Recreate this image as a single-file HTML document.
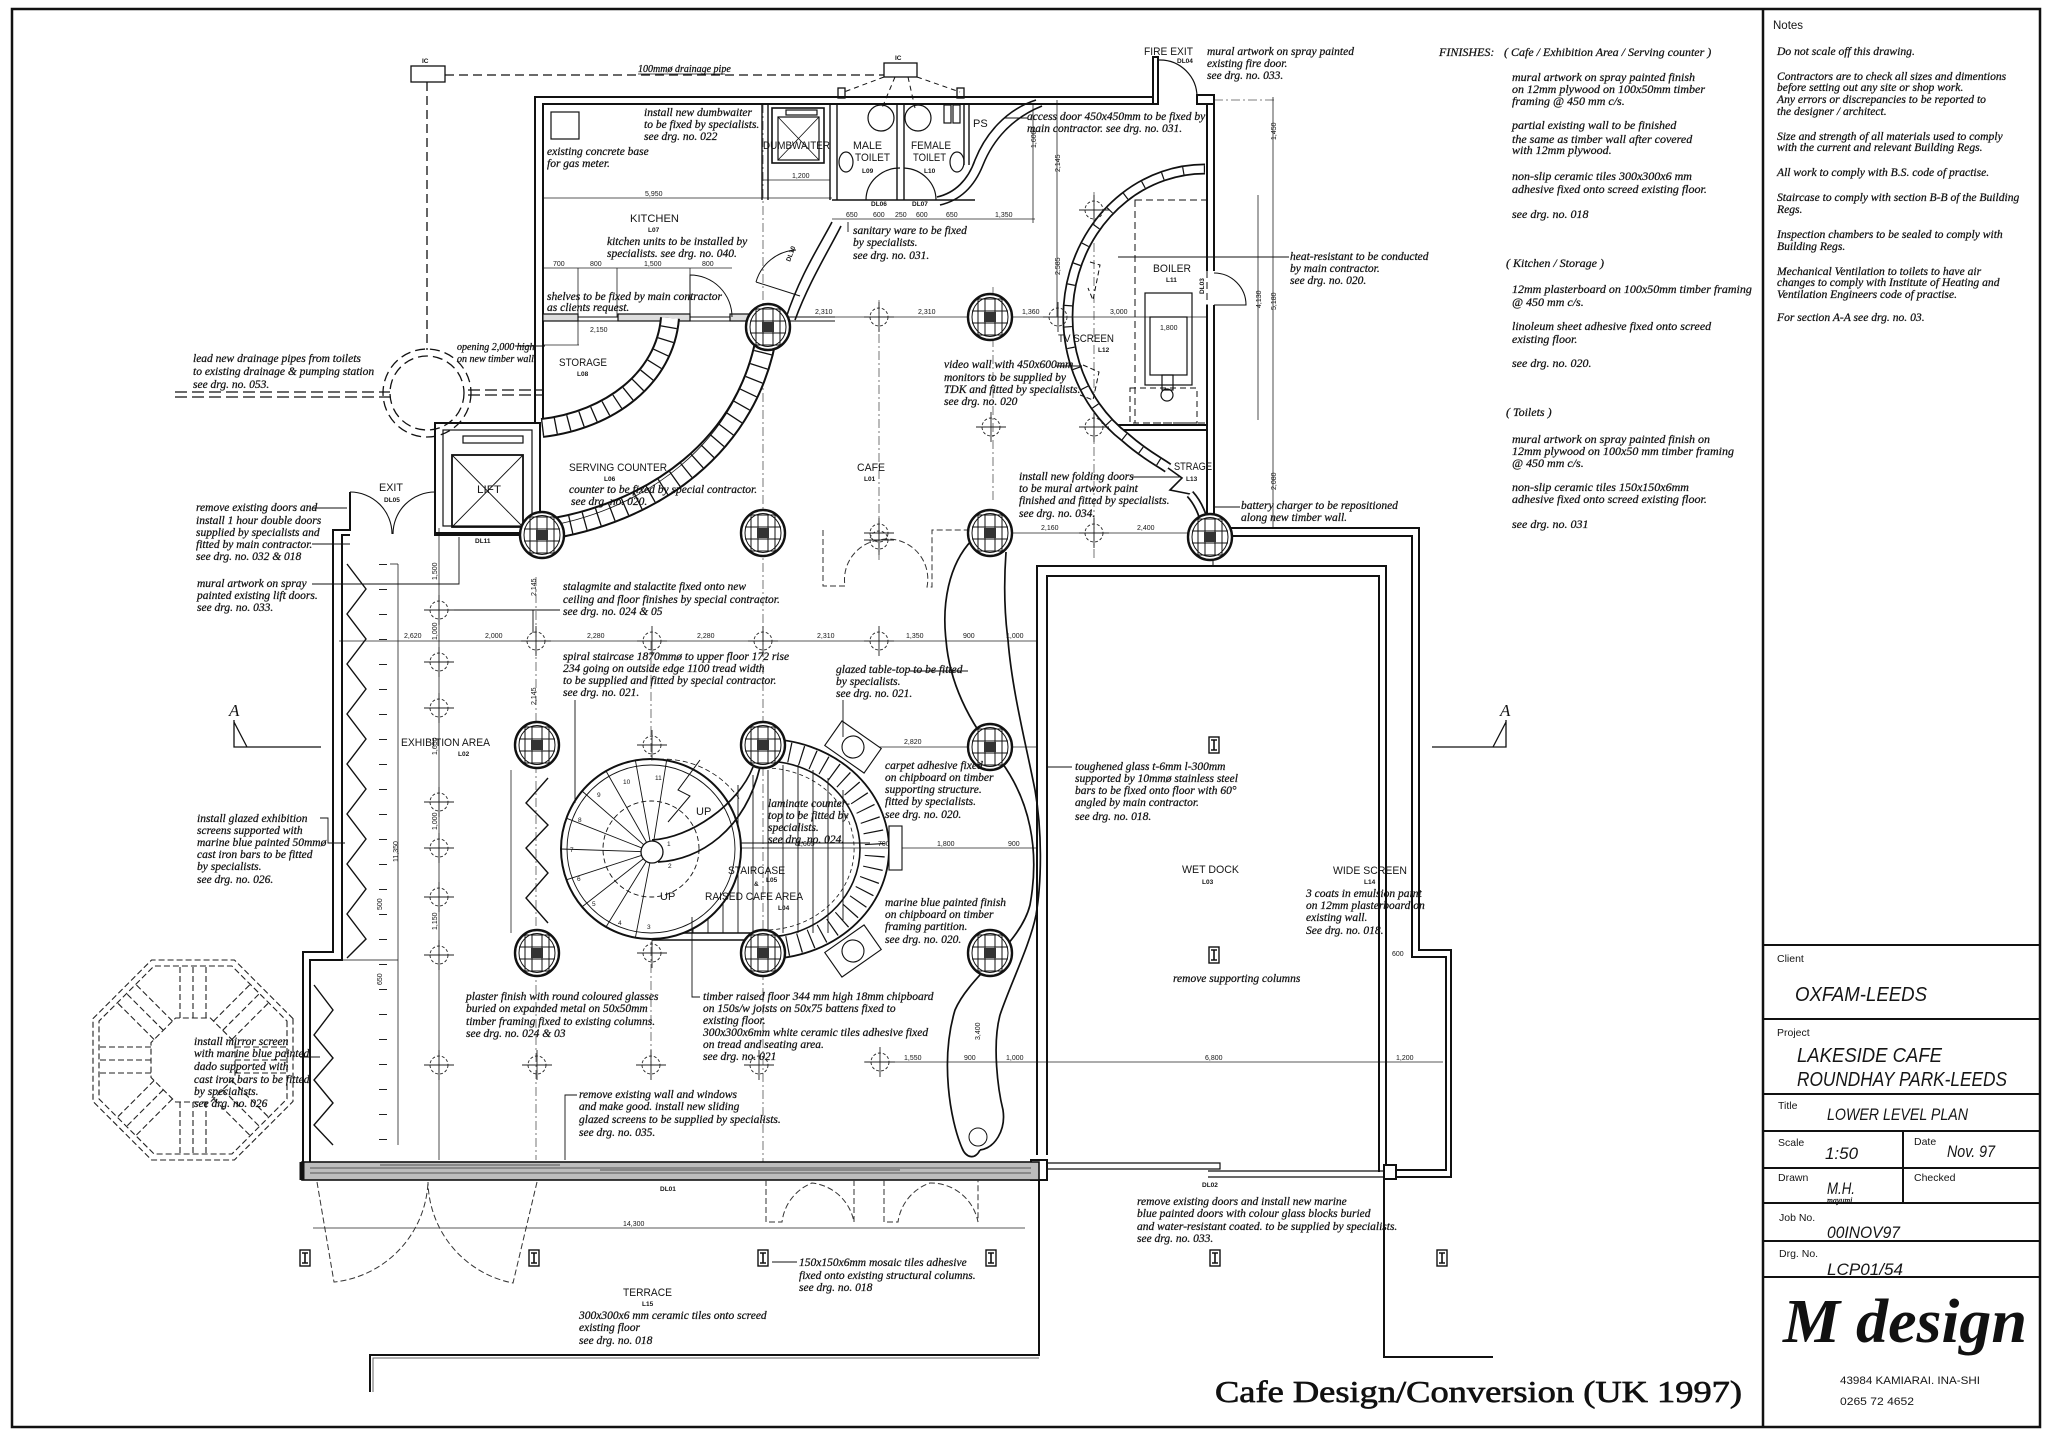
<!DOCTYPE html>
<html><head><meta charset="utf-8">
<style>
html,body{margin:0;padding:0;background:#fff;}
svg{display:block;}
.h{font-family:"Liberation Serif",serif;font-style:italic;font-size:11.5px;fill:#111;stroke:#111;stroke-width:0.25;}
.s{font-family:"Liberation Sans",sans-serif;font-size:11px;fill:#151515;}
.xs{font-family:"Liberation Sans",sans-serif;font-size:6.5px;fill:#151515;font-weight:bold;}
.d{font-family:"Liberation Sans",sans-serif;font-size:7px;fill:#151515;}
.tb{font-family:"Liberation Sans",sans-serif;font-size:10.5px;fill:#151515;}
.tv{font-family:"Liberation Sans",sans-serif;font-style:italic;font-size:20px;fill:#151515;}
.tv2{font-family:"Liberation Sans",sans-serif;font-style:italic;font-size:17px;fill:#151515;}
</style></head><body>
<svg width="2048" height="1439" viewBox="0 0 2048 1439" xmlns="http://www.w3.org/2000/svg">
<rect width="2048" height="1439" fill="#fff"/>
<defs>
 <g id="col">
  <ellipse rx="22" ry="23" fill="#fff" stroke="#111" stroke-width="2.4"/>
  <ellipse rx="18" ry="19.5" fill="none" stroke="#111" stroke-width="1"/>
  <rect x="-12" y="-18" width="24" height="36" fill="none" stroke="#111" stroke-width="1"/>
  <path d="M-18,-6H18M-18,6H18M-5,-19V19M5,-19V19" stroke="#111" stroke-width="1" fill="none"/>
  <rect x="-6" y="-5" width="12" height="10" fill="#333"/>
 </g>
 <g id="gc" fill="none" stroke="#222" stroke-width="0.9">
  <circle r="9" stroke-dasharray="3 2"/>
  <path d="M-15,0H15M0,-15V15"/>
 </g>
 <g id="ib">
  <rect x="-5" y="-8" width="10" height="16" fill="#fff" stroke="#111" stroke-width="1.4"/>
  <path d="M-3,-5H3M0,-5V5M-3,5H3" stroke="#111" stroke-width="1.6"/>
 </g>
</defs>

<!-- FRAME -->
<g fill="none" stroke="#111">
 <rect x="12" y="9" width="2028" height="1418" stroke-width="2.5"/>
 <line x1="1763" y1="9" x2="1763" y2="1427" stroke-width="2.5"/>
 <path d="M1763,945H2040M1763,1019H2040M1763,1094H2040M1763,1131H2040M1763,1168H2040M1763,1203H2040M1763,1241H2040M1763,1277H2040" stroke-width="2"/>
 <line x1="1903" y1="1131" x2="1903" y2="1203" stroke-width="2"/>
</g>

<!-- GRID / DASHED LINES -->
<g fill="none" stroke="#555" stroke-width="0.8" stroke-dasharray="9 3 2 3">
 <path d="M763,104V1180M536,577V1160M993,287V500M1094,192V560M651,641V1065M879,300V560"/>
 <path d="M1214,100H1275"/>
</g>

<!-- DIMENSION LINES -->
<g fill="none" stroke="#222" stroke-width="0.8">
 <path d="M339,641H1037M786,317H1207M1000,533H1212M870,747H1037M652,848H1037M864,1062H1443M313,1228H1025M543,198H832M543,268H732M832,219H1035M763,180H830"/>
 <path d="M1273,97V528M1258,195V420M1033,103V223M1057,100V317M439,528V1160M398,564V1145M511,770V933"/>
 <path d="M383,564V1145" stroke-width="8" stroke-dasharray="1 24"/>
 <path d="M578,268V345M617,268V317M690,268V313M543,345H579"/>
</g>

<!-- DRAINAGE -->
<g fill="none" stroke="#111" stroke-width="1.3">
 <rect x="411" y="66" width="34" height="16"/>
 <rect x="884" y="63" width="33" height="14"/>
 <path d="M445,75H884" stroke-dasharray="9 5"/>
 <path d="M427,82V350" stroke-dasharray="9 5"/>
 <circle cx="427" cy="393" r="44" stroke-dasharray="10 5"/>
 <circle cx="427" cy="393" r="37" stroke-dasharray="10 5"/>
 <path d="M175,392H390M175,397H390M468,390H543M468,395H543" stroke-dasharray="12 5"/>
 <path d="M884,77L844,92M895,77L882,108M908,77L915,108M917,77L960,92" stroke-dasharray="5 4" stroke-width="1"/>
 <rect x="838" y="88" width="7" height="10"/><rect x="957" y="88" width="7" height="10"/>
 <path d="M638,74H725" stroke-width="0.8"/>
</g>

<!-- WALLS -->
<g fill="none" stroke="#111" stroke-width="2">
 <path d="M535,423V97H1153"/>
 <path d="M543,423V104H1153"/>
 <rect x="1153" y="57" width="5" height="47"/>
 <path d="M1158,60H1160A37,37 0 0 1 1197,97" stroke-width="1.2"/>
 <rect x="1197" y="95" width="17" height="9"/>
 <path d="M1207,104V271M1207,305V515"/>
 <path d="M1214,104V271M1214,305V528H1419V950H1451V1177H1396"/>
 <path d="M1214,536H1412V957H1446V1170H1396"/>
 <path d="M1214,273A32,32 0 0 1 1246,305H1214" stroke-width="1.1"/>
 <path d="M1110,425H1207M1110,430H1207"/>
 <path d="M350,492V530H333V952H303V1180"/>
 <path d="M350,535H342V960H310V1162"/>
 <path d="M435,488V535H545"/>
 <path d="M350,492A42,42 0 0 1 392,534M435,492A42,42 0 0 0 393,534" stroke-width="1.1"/>
 <rect x="435" y="423" width="105" height="110"/>
 <rect x="443" y="430" width="89" height="96" stroke-width="1.2"/>
 <rect x="452" y="455" width="71" height="72" stroke-width="1.8"/>
 <path d="M452,455L523,527M523,455L452,527" stroke-width="0.9"/>
 <rect x="463" y="436" width="60" height="7" stroke-width="1.2"/>
 <path d="M1037,1155V566H1386V1172"/>
 <path d="M1047,1155V576H1379V1172"/>
 <path d="M1213,558V566" stroke-width="1"/>
 <path d="M1384,1172V1357H1493"/>
 <path d="M1039,1180V1355H370V1392"/>
 <path d="M1039,1358H373V1392" stroke="#666" stroke-width="1"/>
 <path d="M1047,1163H1220V1169H1047M1208,1171H1386M1208,1177H1386" stroke-width="1.2"/>
 <rect x="1031" y="1160" width="16" height="20" fill="#fff"/>
 <rect x="1384" y="1165" width="12" height="14" fill="#fff"/>
</g>
<rect x="302" y="1162" width="737" height="18" fill="#bdbdbd" stroke="#111" stroke-width="1.6"/>
<path d="M310,1168H1031M310,1173H1031M380,1165H560M600,1170H900" stroke="#555" stroke-width="1" fill="none"/>
<path d="M302,1162V1180" stroke="#111" stroke-width="5"/>

<!-- terrace doors (dashed) -->
<g fill="none" stroke="#333" stroke-width="1" stroke-dasharray="6 3">
 <path d="M317,1182L334,1282A105,105 0 0 0 428,1182"/>
 <path d="M537,1182L513,1283A105,105 0 0 1 428,1182"/>
 <path d="M766,1180V1222H782A48,48 0 0 1 812,1183A48,48 0 0 1 854,1222V1180"/>
 <path d="M884,1180V1222H898A48,48 0 0 1 930,1183A48,48 0 0 1 978,1222V1180"/>
 <path d="M823,530V586H845A40,40 0 0 1 879,540A40,40 0 0 1 927,587H932V530H990"/>
</g>

<!-- KITCHEN / TOILET DETAILS -->
<g fill="none" stroke="#111" stroke-width="1.2">
 <rect x="551" y="112" width="28" height="27"/>
 <rect x="772" y="108" width="52" height="55" stroke-width="1.6"/>
 <rect x="778" y="117" width="41" height="43"/>
 <path d="M778,117L819,160M819,117L778,160" stroke-width="0.8"/>
 <rect x="786" y="110" width="31" height="5"/>
 <path d="M762,104V200M768,104V200" stroke-width="1.4"/>
 <path d="M830,104V200M837,104V200M897,104V200M904,104V200M964,104V165M969,104V165" stroke-width="1.4"/>
 <path d="M832,200H975" stroke-width="1.4"/>
 <ellipse cx="881" cy="118" rx="13" ry="13"/>
 <ellipse cx="918" cy="118" rx="13" ry="13"/>
 <ellipse cx="846" cy="162" rx="7" ry="10"/>
 <ellipse cx="957" cy="162" rx="7" ry="10"/>
 <path d="M866,200A34,32 0 0 1 900,168M936,200A34,32 0 0 0 904,168"/>
 <rect x="944" y="105" width="7" height="18"/><rect x="953" y="105" width="7" height="18"/>
 <path d="M1036,100C1005,110 985,135 975,160C968,180 955,193 937,197" stroke-width="1.6"/>
 <path d="M1042,106C1012,118 993,140 983,165C975,185 962,200 940,205" stroke-width="1.6"/>
 <path d="M832,222C820,245 800,275 786,318" stroke-width="1.6"/>
 <path d="M841,226C829,250 809,282 795,320" stroke-width="1.6"/>
 <path d="M756,282L800,296M756,282A44,44 0 0 1 796,250" stroke-width="1"/>
 <path d="M543,317H835M543,321H835" stroke-width="1"/>
 <rect x="543" y="314" width="35" height="7" fill="#ddd"/>
 <rect x="618" y="314" width="72" height="7" fill="#ddd"/>
 <rect x="730" y="314" width="20" height="7" fill="#ddd"/>
 <rect x="759" y="314" width="27" height="7" fill="#ddd"/>
 <path d="M690,317V275A42,42 0 0 1 732,317" stroke-width="1"/>
 <rect x="1135" y="200" width="72" height="223" stroke-dasharray="7 4" stroke-width="1"/>
 <rect x="1145" y="293" width="47" height="92"/>
 <rect x="1150" y="317" width="37" height="58"/>
 <rect x="1162" y="375" width="11" height="15"/>
 <circle cx="1167" cy="395" r="6"/>
 <rect x="1130" y="388" width="67" height="35" stroke-dasharray="6 4" stroke-width="1"/>
 <path d="M1118,257H1289" stroke-width="0.9"/>
</g>

<!-- COUNTER BANDS -->
<g fill="none">
 <path d="M542,530C650,515 752,447 768,326" stroke="#111" stroke-width="22"/>
 <path d="M542,530C650,515 752,447 768,326" stroke="#fff" stroke-width="18"/>
 <path d="M542,530C650,515 752,447 768,326" stroke="#111" stroke-width="18" stroke-dasharray="1.3 13"/>
 <path d="M542,527C640,512 742,445 758,326" stroke="#111" stroke-width="0.8"/>
 <path d="M542,428C610,420 665,378 670,318" stroke="#111" stroke-width="20"/>
 <path d="M542,428C610,420 665,378 670,318" stroke="#fff" stroke-width="16"/>
 <path d="M542,428C610,420 665,378 670,318" stroke="#111" stroke-width="16" stroke-dasharray="1.3 12"/>
 <path d="M1205,169A137,148 0 0 0 1126,438C1145,455 1160,462 1168,468" stroke="#111" stroke-width="11"/>
 <path d="M1205,169A137,148 0 0 0 1126,438C1145,455 1160,462 1168,468" stroke="#fff" stroke-width="7.5"/>
 <path d="M1205,169A137,148 0 0 0 1126,438C1145,455 1160,462 1168,468" stroke="#111" stroke-width="7.5" stroke-dasharray="1.2 20"/>
 <path d="M1168,468L1182,478L1170,490L1190,494" stroke="#111" stroke-width="1.6"/>
 <path d="M1190,494C1200,505 1205,520 1206,533" stroke="#111" stroke-width="9"/>
 <path d="M1190,494C1200,505 1205,520 1206,533" stroke="#fff" stroke-width="5.5"/>
 <path d="M1090,262L1100,265L1093,300L1088,288M1083,365L1099,372L1093,400L1080,395" stroke="#111" stroke-width="1" stroke-dasharray="5 3"/>
</g>

<!-- S-curve glass strip -->
<g fill="none" stroke="#111" stroke-width="1.7">
 <path d="M972,540C948,565 942,605 946,640C950,690 975,730 1000,760C1030,800 1040,850 1030,905C1020,945 970,975 955,1010C940,1060 950,1120 962,1148C966,1158 975,1160 980,1150"/>
 <path d="M1006,552C1004,580 1004,610 1008,640C1012,690 1025,740 1035,790C1042,830 1042,880 1036,915C1030,945 1010,985 1000,1015C992,1045 998,1090 1003,1110C1006,1130 995,1148 980,1150"/>
 <circle cx="978" cy="1137" r="9" stroke-width="1"/>
</g>

<!-- SPIRAL STAIR & RAISED AREA -->
<g fill="none" stroke="#111" stroke-width="1.1">
 <path d="M765,739A124,110 0 0 1 765,959" stroke-width="1.8"/>
 <path d="M765,761A95,88 0 0 1 765,937" stroke-width="1.6"/>
 <path d="M765,750A110,99 0 0 1 765,948" stroke-width="20" stroke-dasharray="1.2 11"/>
 <path d="M765,768A88,80 0 0 1 765,930" stroke-width="0.8" stroke-dasharray="4 3"/>
 <g transform="rotate(35,853,747)"><rect x="829" y="732" width="48" height="30" fill="#fff"/><circle cx="853" cy="747" r="11"/></g>
 <g transform="rotate(-35,853,951)"><rect x="829" y="936" width="48" height="30" fill="#fff"/><circle cx="853" cy="951" r="11"/></g>
 <rect x="889" y="826" width="13" height="44" fill="#fff"/>
 <path d="M652,933H765M652,940H765" stroke-width="1.5"/>
 <path d="M652,843H870" stroke-width="0.9"/>
 <path d="M663,843V933M678,843V933M693,843V933M708,800V933M723,795V933M738,785V933M753,775V933M768,770V933M783,765V933M798,765V933M813,770V933M828,778V933M843,790V920" stroke-width="0.9"/>
 <circle cx="651" cy="849" r="90" fill="#fff" stroke-width="2"/>
 <circle cx="651" cy="849" r="84" stroke-width="0.9"/>
 <circle cx="651" cy="849" r="48" stroke-width="0.9" stroke-dasharray="5 3"/>
 <path d="M652,852L635.4,760.4M652,852L606,771M652,852L582,791M652,852L566.4,818.2M652,852L561,849M652,852L566.4,879.8M652,852L582,906.9M652,852L606,927M652,852L635.4,937.6M652,852L666.6,760.4" stroke-width="0.9"/>
 <circle cx="652" cy="852" r="11" fill="#fff" stroke-width="1.3"/>
 <path d="M658,862C700,860 745,830 760,767" stroke-width="1.7"/>
 <path d="M652,840C690,838 738,805 753,767" stroke-width="1.7"/>
 <path d="M700,760L678,790L690,796L668,822" stroke-width="1"/>
 <path d="M651,760A92,92 0 0 1 740,800" stroke-width="0.8" stroke-dasharray="5 3"/>
</g>

<!-- ZIGZAG SCREENS -->
<g fill="none" stroke="#111" stroke-width="1.4">
 <polyline points="347,564 366,589 347,614 366,639 347,664 366,689 347,714 366,739 347,764 366,789 347,814 366,839 347,864 366,889 347,914 366,939 347,958"/>
 <polyline points="314,985 333,1010 314,1035 333,1058 314,1080 333,1103 314,1125 333,1145"/>
 <polyline points="548,778 526,803 548,825 526,848 548,873 526,898 548,923"/>
 <path d="M398,564H390M315,960H398" stroke-width="0.8"/>
</g>

<!-- OCTAGON -->
<g fill="none" stroke="#222" stroke-width="1.1" stroke-dasharray="6 3">
 <polygon points="293,1018.6 293,1101.4 234.4,1160 151.6,1160 93,1101.4 93,1018.6 151.6,960 234.4,960"/>
 <polygon points="287,1021.1 287,1098.9 231.9,1154 154.1,1154 99,1098.9 99,1021.1 154.1,966 231.9,966"/>
 <polygon points="235,1042.6 235,1077.4 210.4,1102 175.6,1102 151,1077.4 151,1042.6 175.6,1018 210.4,1018"/>
 <g id="oct"><path d="M180,1018V966M206,1018V966M193,1018V966"/></g>
 <use href="#oct" transform="rotate(45,193,1060)"/>
 <use href="#oct" transform="rotate(90,193,1060)"/>
 <use href="#oct" transform="rotate(135,193,1060)"/>
 <use href="#oct" transform="rotate(180,193,1060)"/>
 <use href="#oct" transform="rotate(225,193,1060)"/>
 <use href="#oct" transform="rotate(270,193,1060)"/>
 <use href="#oct" transform="rotate(315,193,1060)"/>
</g>

<!-- SECTION MARKERS -->
<g fill="none" stroke="#111" stroke-width="1.3">
 <path d="M234,720V747H321M234,722L247,747"/>
 <path d="M1432,747H1506V720M1506,722L1493,747"/>
</g>

<!-- LEADER LINES -->
<g fill="none" stroke="#111" stroke-width="0.9">
 <path d="M312,508H347M312,544H350"/>
 <path d="M312,584H459V537"/>
 <path d="M320,818H328V843H345"/>
 <path d="M300,1057H320"/>
 <path d="M515,346H545"/>
 <path d="M560,610H448M533,610V633"/>
 <path d="M575,700V803"/>
 <path d="M910,671H968M843,700V737"/>
 <path d="M1048,767H1072"/>
 <path d="M1132,477H1180"/>
 <path d="M1055,366H1082"/>
 <path d="M1027,118H1005"/>
 <path d="M848,232V222"/>
 <path d="M1240,507H1215"/>
 <path d="M700,997H692V917"/>
 <path d="M577,1095H565V1160"/>
 <path d="M772,1262H797"/>
</g>

<!-- COLUMNS -->
<use href="#col" x="542" y="535"/>
<use href="#col" x="763" y="533"/>
<use href="#col" x="990" y="533"/>
<use href="#col" x="1210" y="537"/>
<use href="#col" x="990" y="317"/>
<use href="#col" x="768" y="327"/>
<use href="#col" x="537" y="745"/>
<use href="#col" x="763" y="745"/>
<use href="#col" x="990" y="747"/>
<use href="#col" x="537" y="953"/>
<use href="#col" x="763" y="953"/>
<use href="#col" x="990" y="953"/>

<!-- GRID MARKERS -->
<use href="#gc" x="439" y="610"/><use href="#gc" x="439" y="662"/><use href="#gc" x="439" y="708"/>
<use href="#gc" x="439" y="802"/><use href="#gc" x="439" y="848"/><use href="#gc" x="439" y="897"/>
<use href="#gc" x="439" y="955"/><use href="#gc" x="536" y="641"/><use href="#gc" x="652" y="641"/>
<use href="#gc" x="763" y="641"/><use href="#gc" x="879" y="641"/><use href="#gc" x="879" y="317"/>
<use href="#gc" x="1094" y="210"/><use href="#gc" x="991" y="427"/><use href="#gc" x="1094" y="427"/>
<use href="#gc" x="1058" y="317"/><use href="#gc" x="879" y="533"/><use href="#gc" x="1094" y="533"/>
<use href="#gc" x="439" y="1065"/><use href="#gc" x="537" y="1065"/><use href="#gc" x="651" y="1065"/>
<use href="#gc" x="759" y="1065"/><use href="#gc" x="880" y="1062"/><use href="#gc" x="652" y="745"/>
<use href="#gc" x="652" y="953"/><use href="#gc" x="879" y="540"/>

<!-- I-BEAM MARKERS -->
<use href="#ib" x="305" y="1258"/><use href="#ib" x="534" y="1258"/><use href="#ib" x="763" y="1258"/>
<use href="#ib" x="991" y="1258"/><use href="#ib" x="1215" y="1258"/><use href="#ib" x="1442" y="1258"/>
<use href="#ib" x="1214" y="745"/><use href="#ib" x="1214" y="955"/>

<!-- ROOM LABELS -->
<text class="s" x="630" y="222" textLength="49" lengthAdjust="spacingAndGlyphs">KITCHEN</text><text class="xs" x="648" y="232">L07</text>
<text class="s" x="559" y="366" textLength="48" lengthAdjust="spacingAndGlyphs">STORAGE</text><text class="xs" x="577" y="376">L08</text>
<text class="s" x="569" y="471" textLength="98" lengthAdjust="spacingAndGlyphs">SERVING COUNTER</text><text class="xs" x="604" y="481">L06</text>
<text class="s" x="857" y="471" textLength="28" lengthAdjust="spacingAndGlyphs">CAFE</text><text class="xs" x="864" y="481">L01</text>
<text class="s" x="379" y="491" textLength="24" lengthAdjust="spacingAndGlyphs">EXIT</text><text class="xs" x="384" y="502">DL05</text>
<text class="s" x="477" y="493" textLength="24" lengthAdjust="spacingAndGlyphs">LIFT</text><text class="xs" x="475" y="543">DL11</text>
<text class="s" x="763" y="149" textLength="67" lengthAdjust="spacingAndGlyphs">DUMBWAITER</text>
<text class="s" x="853" y="149" textLength="29" lengthAdjust="spacingAndGlyphs">MALE</text>
<text class="s" x="855" y="161" textLength="35" lengthAdjust="spacingAndGlyphs">TOILET</text><text class="xs" x="862" y="173">L09</text>
<text class="s" x="911" y="149" textLength="40" lengthAdjust="spacingAndGlyphs">FEMALE</text>
<text class="s" x="913" y="161" textLength="33" lengthAdjust="spacingAndGlyphs">TOILET</text><text class="xs" x="924" y="173">L10</text>
<text class="s" x="973" y="127">PS</text>
<text class="xs" x="871" y="206">DL06</text><text class="xs" x="912" y="206">DL07</text>
<text class="xs" transform="translate(790,262) rotate(-70)">DL10</text>
<text class="xs" transform="translate(1204,294) rotate(-90)">DL03</text>
<text class="s" x="1153" y="272" textLength="38" lengthAdjust="spacingAndGlyphs">BOILER</text><text class="xs" x="1166" y="282">L11</text>
<text class="s" x="1058" y="342" textLength="56" lengthAdjust="spacingAndGlyphs">TV SCREEN</text><text class="xs" x="1098" y="352">L12</text>
<text class="s" x="1174" y="470" textLength="38" lengthAdjust="spacingAndGlyphs">STRAGE</text><text class="xs" x="1186" y="481">L13</text>
<text class="s" x="1144" y="55" textLength="49" lengthAdjust="spacingAndGlyphs">FIRE EXIT</text><text class="xs" x="1177" y="63">DL04</text>
<text class="s" x="401" y="746" textLength="89" lengthAdjust="spacingAndGlyphs">EXHIBITION AREA</text><text class="xs" x="458" y="756">L02</text>
<text class="s" x="728" y="874" textLength="57" lengthAdjust="spacingAndGlyphs">STAIRCASE</text><text class="xs" x="754" y="886">&amp;</text><text class="xs" x="766" y="882">L05</text>
<text class="s" x="705" y="900" textLength="98" lengthAdjust="spacingAndGlyphs">RAISED CAFE AREA</text><text class="xs" x="778" y="910">L04</text>
<text class="s" x="696" y="815">UP</text><text class="s" x="660" y="900">UP</text>
<text class="s" x="1182" y="873" textLength="57" lengthAdjust="spacingAndGlyphs">WET DOCK</text><text class="xs" x="1202" y="884">L03</text>
<text class="s" x="1333" y="874" textLength="74" lengthAdjust="spacingAndGlyphs">WIDE SCREEN</text><text class="xs" x="1364" y="884">L14</text>
<text class="s" x="623" y="1296" textLength="49" lengthAdjust="spacingAndGlyphs">TERRACE</text><text class="xs" x="642" y="1306">L15</text>
<text class="xs" x="660" y="1191">DL01</text><text class="xs" x="1202" y="1187">DL02</text>
<text class="xs" x="422" y="63">IC</text><text class="xs" x="895" y="60">IC</text>
<text x="229" y="716" style="font-family:'Liberation Serif',serif;font-style:italic;font-size:17px;fill:#111">A</text>
<text x="1500" y="716" style="font-family:'Liberation Serif',serif;font-style:italic;font-size:17px;fill:#111">A</text>
<g class="xs" style="font-weight:normal">
<text x="655" y="780">11</text><text x="623" y="784">10</text><text x="597" y="797">9</text><text x="578" y="822">8</text><text x="570" y="852">7</text><text x="577" y="881">6</text><text x="592" y="906">5</text><text x="618" y="925">4</text><text x="647" y="929">3</text><text x="668" y="868">2</text><text x="667" y="846">1</text>
</g>

<!-- DIMENSION LABELS -->
<g class="d">
<text x="404" y="638">2,620</text><text x="485" y="638">2,000</text><text x="587" y="638">2,280</text><text x="697" y="638">2,280</text><text x="817" y="638">2,310</text><text x="906" y="638">1,350</text><text x="963" y="638">900</text><text x="1006" y="638">1,000</text>
<text x="815" y="314">2,310</text><text x="918" y="314">2,310</text><text x="1022" y="314">1,360</text><text x="1110" y="314">3,000</text><text x="1160" y="330">1,800</text>
<text x="1041" y="530">2,160</text><text x="1137" y="530">2,400</text><text x="904" y="744">2,820</text>
<text x="797" y="846">1,665</text><text x="878" y="846">700</text><text x="937" y="846">1,800</text><text x="1008" y="846">900</text>
<text x="904" y="1060">1,550</text><text x="964" y="1060">900</text><text x="1006" y="1060">1,000</text><text x="1205" y="1060">6,800</text><text x="1396" y="1060">1,200</text>
<text x="623" y="1226">14,300</text><text x="645" y="196">5,950</text>
<text x="553" y="266">700</text><text x="590" y="266">800</text><text x="644" y="266">1,500</text><text x="702" y="266">800</text>
<text x="846" y="217">650</text><text x="873" y="217">600</text><text x="895" y="217">250</text><text x="916" y="217">600</text><text x="946" y="217">650</text><text x="995" y="217">1,350</text>
<text x="792" y="178">1,200</text><text x="590" y="332">2,150</text><text x="1392" y="956">600</text>
<text transform="translate(1276,140) rotate(-90)">1,450</text><text transform="translate(1276,310) rotate(-90)">5,180</text><text transform="translate(1276,490) rotate(-90)">2,080</text><text transform="translate(1261,308) rotate(-90)">4,130</text>
<text transform="translate(536,596) rotate(-90)">2,145</text><text transform="translate(536,705) rotate(-90)">2,145</text>
<text transform="translate(398,862) rotate(-90)">11,350</text>
<text transform="translate(437,580) rotate(-90)">1,500</text><text transform="translate(437,640) rotate(-90)">1,000</text><text transform="translate(437,755) rotate(-90)">1,650</text><text transform="translate(437,830) rotate(-90)">1,000</text><text transform="translate(437,930) rotate(-90)">1,150</text>
<text transform="translate(1036,148) rotate(-90)">1,600</text><text transform="translate(1060,172) rotate(-90)">2,145</text><text transform="translate(1060,275) rotate(-90)">2,585</text>
<text transform="translate(980,1040) rotate(-90)">3,400</text>
<text transform="translate(382,910) rotate(-90)">500</text><text transform="translate(382,985) rotate(-90)">650</text>
</g>

<!-- HANDWRITTEN NOTES -->
<g class="h">
<text x="193" y="362">lead new drainage pipes from toilets</text>
<text x="193" y="375">to existing drainage &amp; pumping station</text>
<text x="193" y="388">see drg. no. 053.</text>
<text x="457" y="350" style="font-size:10px">opening 2,000 high</text>
<text x="457" y="362" style="font-size:10px">on new timber wall</text>
<text x="196" y="511">remove existing doors and</text>
<text x="196" y="524">install 1 hour double doors</text>
<text x="196" y="536">supplied by specialists and</text>
<text x="196" y="548">fitted by main contractor.</text>
<text x="196" y="560">see drg. no. 032 &amp; 018</text>
<text x="197" y="587">mural artwork on spray</text>
<text x="197" y="599">painted existing lift doors.</text>
<text x="197" y="611">see drg. no. 033.</text>
<text x="197" y="822">install glazed exhibition</text>
<text x="197" y="834">screens supported with</text>
<text x="197" y="846">marine blue painted 50mm&#248;</text>
<text x="197" y="858">cast iron bars to be fitted</text>
<text x="197" y="870">by specialists.</text>
<text x="197" y="883">see drg. no. 026.</text>
<text x="194" y="1045">install mirror screen</text>
<text x="194" y="1057">with marine blue painted</text>
<text x="194" y="1070">dado supported with</text>
<text x="194" y="1083">cast iron bars to be fitted</text>
<text x="194" y="1095">by specialists.</text>
<text x="194" y="1107">see drg. no. 026</text>
<text x="466" y="1000">plaster finish with round coloured glasses</text>
<text x="466" y="1012">buried on expanded metal on 50x50mm</text>
<text x="466" y="1025">timber framing fixed to existing columns.</text>
<text x="466" y="1037">see drg. no. 024 &amp; 03</text>
<text x="703" y="1000">timber raised floor 344 mm high 18mm chipboard</text>
<text x="703" y="1012">on 150s/w joists on 50x75 battens fixed to</text>
<text x="703" y="1024">existing floor.</text>
<text x="703" y="1036">300x300x6mm white ceramic tiles adhesive fixed</text>
<text x="703" y="1048">on tread and seating area.</text>
<text x="703" y="1060">see drg. no. 021</text>
<text x="579" y="1098">remove existing wall and windows</text>
<text x="579" y="1110">and make good. install new sliding</text>
<text x="579" y="1123">glazed screens to be supplied by specialists.</text>
<text x="579" y="1136">see drg. no. 035.</text>
<text x="579" y="1319">300x300x6 mm ceramic tiles onto screed</text>
<text x="579" y="1331">existing floor</text>
<text x="579" y="1344">see drg. no. 018</text>
<text x="799" y="1266">150x150x6mm mosaic tiles adhesive</text>
<text x="799" y="1279">fixed onto existing structural columns.</text>
<text x="799" y="1291">see drg. no. 018</text>
<text x="1137" y="1205">remove existing doors and install new marine</text>
<text x="1137" y="1217">blue painted doors with colour glass blocks buried</text>
<text x="1137" y="1230">and water-resistant coated. to be supplied by specialists.</text>
<text x="1137" y="1242">see drg. no. 033.</text>
<text x="563" y="590">stalagmite and stalactite fixed onto new</text>
<text x="563" y="603">ceiling and floor finishes by special contractor.</text>
<text x="563" y="615">see drg. no. 024 &amp; 05</text>
<text x="563" y="660">spiral staircase 1870mm&#248; to upper floor 172 rise</text>
<text x="563" y="672">234 going on outside edge 1100 tread width</text>
<text x="563" y="684">to be supplied and fitted by special contractor.</text>
<text x="563" y="696">see drg. no. 021.</text>
<text x="836" y="673">glazed table-top to be fitted</text>
<text x="836" y="685">by specialists.</text>
<text x="836" y="697">see drg. no. 021.</text>
<text x="885" y="769">carpet adhesive fixed</text>
<text x="885" y="781">on chipboard on timber</text>
<text x="885" y="793">supporting structure.</text>
<text x="885" y="805">fitted by specialists.</text>
<text x="885" y="818">see drg. no. 020.</text>
<text x="768" y="807">laminate counter-</text>
<text x="768" y="819">top to be fitted by</text>
<text x="768" y="831">specialists.</text>
<text x="768" y="843">see drg. no. 024.</text>
<text x="885" y="906">marine blue painted finish</text>
<text x="885" y="918">on chipboard on timber</text>
<text x="885" y="930">framing partition.</text>
<text x="885" y="943">see drg. no. 020.</text>
<text x="1075" y="770">toughened glass t-6mm l-300mm</text>
<text x="1075" y="782">supported by 10mm&#248; stainless steel</text>
<text x="1075" y="794">bars to be fixed onto floor with 60&#176;</text>
<text x="1075" y="806">angled by main contractor.</text>
<text x="1075" y="820">see drg. no. 018.</text>
<text x="1306" y="897">3 coats in emulsion paint</text>
<text x="1306" y="909">on 12mm plasterboard on</text>
<text x="1306" y="921">existing wall.</text>
<text x="1306" y="934">See drg. no. 018.</text>
<text x="1173" y="982">remove supporting columns</text>
<text x="1019" y="480">install new folding doors</text>
<text x="1019" y="492">to be mural artwork paint</text>
<text x="1019" y="504">finished and fitted by specialists.</text>
<text x="1019" y="517">see drg. no. 034.</text>
<text x="944" y="368">video wall with 450x600mm</text>
<text x="944" y="381">monitors to be supplied by</text>
<text x="944" y="393">TDK and fitted by specialists.</text>
<text x="944" y="405">see drg. no. 020</text>
<text x="1027" y="120">access door 450x450mm to be fixed by</text>
<text x="1027" y="132">main contractor. see drg. no. 031.</text>
<text x="644" y="116">install new dumbwaiter</text>
<text x="644" y="128">to be fixed by specialists.</text>
<text x="644" y="140">see drg. no. 022</text>
<text x="547" y="155">existing concrete base</text>
<text x="547" y="167">for gas meter.</text>
<text x="607" y="245">kitchen units to be installed by</text>
<text x="607" y="257">specialists. see drg. no. 040.</text>
<text x="853" y="234">sanitary ware to be fixed</text>
<text x="853" y="246">by specialists.</text>
<text x="853" y="259">see drg. no. 031.</text>
<text x="547" y="300">shelves to be fixed by main contractor</text>
<text x="547" y="311">as clients request.</text>
<text x="569" y="493">counter to be fixed by special contractor.</text>
<text x="571" y="505">see drg. no. 020.</text>
<text x="1207" y="55">mural artwork on spray painted</text>
<text x="1207" y="67">existing fire door.</text>
<text x="1207" y="79">see drg. no. 033.</text>
<text x="1290" y="260">heat-resistant to be conducted</text>
<text x="1290" y="272">by main contractor.</text>
<text x="1290" y="284">see drg. no. 020.</text>
<text x="1241" y="509">battery charger to be repositioned</text>
<text x="1241" y="521">along new timber wall.</text>
<text x="638" y="72" style="font-size:10px">100mm&#248; drainage pipe</text>
<text x="1827" y="1203" style="font-size:8px">mayumi</text>
</g>

<!-- FINISHES -->
<g class="h" style="font-size:12px">
<text x="1439" y="56">FINISHES:</text>
<text x="1504" y="56">( Cafe / Exhibition Area / Serving counter )</text>
<text x="1512" y="81">mural artwork on spray painted finish</text>
<text x="1512" y="93">on 12mm plywood on 100x50mm timber</text>
<text x="1512" y="105">framing @ 450 mm c/s.</text>
<text x="1512" y="129">partial existing wall to be finished</text>
<text x="1512" y="143">the same as timber wall after covered</text>
<text x="1512" y="154">with 12mm plywood.</text>
<text x="1512" y="180">non-slip ceramic tiles 300x300x6 mm</text>
<text x="1512" y="193">adhesive fixed onto screed existing floor.</text>
<text x="1512" y="218">see drg. no. 018</text>
<text x="1506" y="267">( Kitchen / Storage )</text>
<text x="1512" y="293">12mm plasterboard on 100x50mm timber framing</text>
<text x="1512" y="306">@ 450 mm c/s.</text>
<text x="1512" y="330">linoleum sheet adhesive fixed onto screed</text>
<text x="1512" y="343">existing floor.</text>
<text x="1512" y="367">see drg. no. 020.</text>
<text x="1506" y="416">( Toilets )</text>
<text x="1512" y="443">mural artwork on spray painted finish on</text>
<text x="1512" y="455">12mm plywood on 100x50 mm timber framing</text>
<text x="1512" y="467">@ 450 mm c/s.</text>
<text x="1512" y="491">non-slip ceramic tiles 150x150x6mm</text>
<text x="1512" y="503">adhesive fixed onto screed existing floor.</text>
<text x="1512" y="528">see drg. no. 031</text>
</g>

<!-- NOTES COLUMN -->
<text class="tb" x="1773" y="29" style="font-size:11.5px">Notes</text>
<g class="h" style="font-size:11.6px">
<text x="1777" y="55">Do not scale off this drawing.</text>
<text x="1777" y="80">Contractors are to check all sizes and dimentions</text>
<text x="1777" y="91">before setting out any site or shop work.</text>
<text x="1777" y="103">Any errors or discrepancies to be reported to</text>
<text x="1777" y="115">the designer / architect.</text>
<text x="1777" y="140">Size and strength of all materials used to comply</text>
<text x="1777" y="151">with the current and relevant Building Regs.</text>
<text x="1777" y="176">All work to comply with B.S. code of practise.</text>
<text x="1777" y="201">Staircase to comply with section B-B of the Building</text>
<text x="1777" y="213">Regs.</text>
<text x="1777" y="238">Inspection chambers to be sealed to comply with</text>
<text x="1777" y="250">Building Regs.</text>
<text x="1777" y="275">Mechanical Ventilation to toilets to have air</text>
<text x="1777" y="286">changes to comply with Institute of Heating and</text>
<text x="1777" y="298">Ventilation Engineers code of practise.</text>
<text x="1777" y="321">For section A-A see drg. no. 03.</text>
</g>

<!-- TITLE BLOCK -->
<text class="tb" x="1777" y="962">Client</text>
<text class="tv" x="1795" y="1001" textLength="132" lengthAdjust="spacingAndGlyphs">OXFAM-LEEDS</text>
<text class="tb" x="1777" y="1036">Project</text>
<text class="tv" x="1797" y="1062" textLength="145" lengthAdjust="spacingAndGlyphs">LAKESIDE  CAFE</text>
<text class="tv" x="1797" y="1086" textLength="210" lengthAdjust="spacingAndGlyphs">ROUNDHAY PARK-LEEDS</text>
<text class="tb" x="1778" y="1109">Title</text>
<text class="tv2" x="1827" y="1120" textLength="141" lengthAdjust="spacingAndGlyphs">LOWER LEVEL PLAN</text>
<text class="tb" x="1778" y="1146">Scale</text>
<text class="tv2" x="1825" y="1159" textLength="33" lengthAdjust="spacingAndGlyphs">1:50</text>
<text class="tb" x="1914" y="1145">Date</text>
<text class="tv2" x="1947" y="1157" textLength="48" lengthAdjust="spacingAndGlyphs">Nov. 97</text>
<text class="tb" x="1778" y="1181">Drawn</text>
<text class="tv2" x="1827" y="1194" textLength="28" lengthAdjust="spacingAndGlyphs">M.H.</text>
<text class="tb" x="1914" y="1181">Checked</text>
<text class="tb" x="1779" y="1221">Job No.</text>
<text class="tv2" x="1827" y="1238" textLength="73" lengthAdjust="spacingAndGlyphs">00INOV97</text>
<text class="tb" x="1779" y="1257">Drg. No.</text>
<text class="tv2" x="1827" y="1275" textLength="76" lengthAdjust="spacingAndGlyphs">LCP01/54</text>
<text x="1783" y="1342" textLength="244" lengthAdjust="spacingAndGlyphs" style="font-family:'Liberation Serif',serif;font-style:italic;font-weight:bold;font-size:62px;fill:#111">M design</text>
<text class="tb" x="1840" y="1384" textLength="140" lengthAdjust="spacingAndGlyphs" style="font-size:11px">43984 KAMIARAI. INA-SHI</text>
<text class="tb" x="1840" y="1405" textLength="74" lengthAdjust="spacingAndGlyphs" style="font-size:11px">0265 72 4652</text>

<!-- CAPTION -->
<text x="1215" y="1402" textLength="527" lengthAdjust="spacingAndGlyphs" style="font-family:'Liberation Serif',serif;font-size:31px;fill:#111;stroke:#111;stroke-width:0.7">Cafe Design/Conversion (UK 1997)</text>
</svg>
</body></html>
